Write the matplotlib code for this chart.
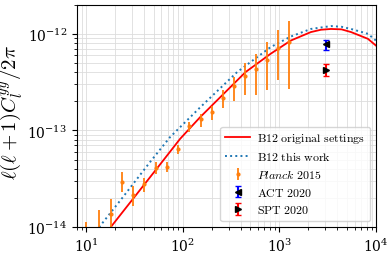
import numpy as np
import matplotlib
matplotlib.use("Agg")
import matplotlib.pyplot as plt

plt.rcParams['mathtext.fontset'] = 'cm'
plt.rcParams['font.family'] = 'serif'
plt.rcParams['font.serif'] = ['DejaVu Serif']

# Planck 2015 points (ell, value, lower, upper)
planck_l = [10, 13.5, 18.2, 23.7, 30.6, 39.8, 52.3, 68.6, 90, 117, 154, 200, 261, 340, 442, 576, 750, 976, 1271]
planck_y = [8.0e-15, 9.0e-15, 1.37e-14, 2.96e-14, 2.16e-14, 2.8e-14, 4.13e-14, 4.24e-14, 6.45e-14, 1.1e-13,
            1.3e-13, 1.57e-13, 2.17e-13, 2.87e-13, 3.7e-13, 4.27e-13, 5.41e-13, 7.1e-13, 8.3e-13]
planck_lo = [5.0e-15, 6.0e-15, 1.0e-14, 2.3e-14, 1.67e-14, 2.3e-14, 3.56e-14, 3.7e-14, 5.73e-14, 9.6e-14,
             1.08e-13, 1.27e-13, 1.70e-13, 2.04e-13, 2.30e-13, 2.30e-13, 2.59e-13, 3.36e-13, 2.69e-13]
planck_hi = [1.14e-14, 1.51e-14, 1.96e-14, 3.76e-14, 2.69e-14, 3.21e-14, 4.7e-14, 4.7e-14, 7.1e-14, 1.22e-13,
             1.49e-13, 1.81e-13, 2.65e-13, 3.56e-13, 4.96e-13, 6.2e-13, 8.2e-13, 1.08e-12, 1.37e-12]

act_l = [3030]
act_y = [7.74e-13]
act_lo = [6.87e-13]
act_hi = [8.7e-13]

spt_l = [3030]
spt_y = [4.24e-13]
spt_lo = [3.64e-13]
spt_hi = [4.88e-13]

# model curves
red_l = [18.2, 53.6, 93.8, 151, 200, 446, 811, 1312, 2118, 2700, 3420, 4400, 5530, 8260, 10000]
red_y = [1.02e-14, 4.01e-14, 8.19e-14, 1.37e-13, 1.81e-13, 4.01e-13, 6.2e-13, 8.5e-13, 1.04e-12, 1.10e-12,
         1.12e-12, 1.11e-12, 1.04e-12, 8.86e-13, 7.55e-13]
blue_l = [13.6, 23.2, 45.7, 73.8, 151, 365, 811, 1312, 2118, 2700, 3420, 4400, 5530, 8260, 10000]
blue_y = [1.0e-14, 1.96e-14, 4.7e-14, 8.53e-14, 1.73e-13, 4.01e-13, 7.27e-13, 9.35e-13, 1.12e-12, 1.16e-12,
          1.2e-12, 1.18e-12, 1.12e-12, 9.98e-13, 8.5e-13]

def errs(y, lo, hi):
    y = np.array(y)
    return [y - np.array(lo), np.array(hi) - y]

fig = plt.figure(figsize=(3.92, 2.55), dpi=100)
ax = fig.add_axes([0.196, 0.105, 0.763, 0.873])

ax.plot(red_l, red_y, color='red', lw=1.3, label=r'$\mathrm{B12\ original\ settings}$')
ax.plot(blue_l, blue_y, color='C0', ls=':', lw=1.4, label=r'$\mathrm{B12\ this\ work}$')
ax.errorbar(planck_l, planck_y, yerr=errs(planck_y, planck_lo, planck_hi), fmt='.', color='C1',
            ms=4, elinewidth=1.3, label=r'$\mathit{Planck}\ \mathrm{2015}$')
ax.errorbar(act_l, act_y, yerr=errs(act_y, act_lo, act_hi), fmt='<', color='k', ecolor='blue',
            ms=5, elinewidth=1.5, capsize=2, label=r'$\mathrm{ACT\ 2020}$')
ax.errorbar(spt_l, spt_y, yerr=errs(spt_y, spt_lo, spt_hi), fmt='>', color='k', ecolor='red',
            ms=5, elinewidth=1.5, capsize=2, label=r'$\mathrm{SPT\ 2020}$')

ax.set_xscale('log')
ax.set_yscale('log')
ax.set_xlim(8, 1e4)
ax.set_ylim(1e-14, 2e-12)
ax.grid(True, which='both', color='#dddddd', lw=0.6)
ax.tick_params(labelsize=10)
ax.set_ylabel(r'$\ell(\ell+1)C_l^{yy}/2\pi$', fontsize=15)
ax.yaxis.set_label_coords(-0.174, 0.52)
ax.legend(loc='lower right', fontsize=8.6, handlelength=2.1, handletextpad=0.6,
          borderpad=0.4, labelspacing=0.4)

fig.savefig('out.png')
